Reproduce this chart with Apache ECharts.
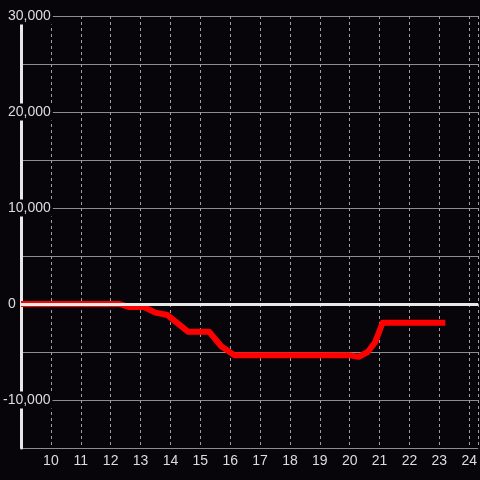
<!DOCTYPE html>
<html>
<head>
<meta charset="utf-8">
<script src="https://cdn.jsdelivr.net/npm/echarts@6/dist/echarts.min.js"></script>
<style>
  html, body { margin: 0; padding: 0; background: #07050a; }
  #chart { width: 480px; height: 480px; }
</style>
</head>
<body>
<div id="chart"></div>
<script>
  // hour of day -> value
  var hours = [9, 12.3, 12.6, 13.1, 13.5, 13.9, 14.6, 15.3, 15.7, 16.15, 20.0, 20.3, 20.6, 20.85, 21.1, 23.2];
  var values = [0, 0, -300, -300, -900, -1150, -2900, -2900, -4400, -5350, -5350, -5500, -5000, -4000, -1950, -1950];
  var yTicks = [-10000, 0, 10000, 20000, 30000];

  var chart = echarts.init(document.getElementById('chart'));

  function fmt(v) {
    return String(v).replace(/\B(?=(\d{3})+(?!\d))/g, ',');
  }

  var points = hours.map(function (h, i) { return [h, values[i]]; });

  chart.setOption({
    backgroundColor: '#07050a',
    animation: false,
    textStyle: { fontFamily: 'Liberation Sans, Arial, sans-serif' },
    grid: { left: 20, right: 0, top: 16, bottom: 32 },
    xAxis: {
      type: 'value',
      min: 9,
      max: 24.3,
      interval: 1,
      axisLine: { show: false },
      axisTick: { show: false },
      axisLabel: {
        showMinLabel: false,
        showMaxLabel: false,
        color: '#dddddd',
        fontSize: 14,
        margin: 6
      },
      splitLine: {
        show: true,
        lineStyle: { color: '#a0a0a0', type: [3, 3], width: 1 }
      }
    },
    yAxis: {
      type: 'value',
      min: -15000,
      max: 30000,
      interval: 5000,
      axisLine: { show: true, onZero: false, lineStyle: { color: '#e8e8e8', width: 3 } },
      axisTick: { show: false },
      axisLabel: {
        align: 'left',
        margin: 18,
        fontSize: 14,
        color: '#dddddd',
        formatter: function (v) {
          if (yTicks.indexOf(v) < 0) return '';
          return v < 0 ? '{n|' + fmt(v) + '}' : '{p|' + fmt(v) + '}';
        },
        rich: {
          p: { fontSize: 14, color: '#dddddd', backgroundColor: '#07050a', padding: [2, 2, 1, 5] },
          n: { fontSize: 14, color: '#dddddd', backgroundColor: '#07050a', padding: [2, 2, 1, 0] }
        }
      },
      splitLine: {
        show: true,
        lineStyle: { color: '#8a8f8a', width: 1 }
      }
    },
    series: [
      {
        type: 'line',
        z: 1,
        data: [],
        silent: true,
        markLine: {
          silent: true,
          symbol: 'none',
          label: { show: false },
          lineStyle: { color: '#e8e8e8', width: 3, type: 'solid' },
          data: [{ yAxis: 0 }]
        }
      },
      {
        type: 'line',
        z: 3,
        data: points,
        showSymbol: false,
        lineStyle: { color: '#ff0000', width: 6, join: 'round' }
      }
    ]
  });
</script>
</body>
</html>
